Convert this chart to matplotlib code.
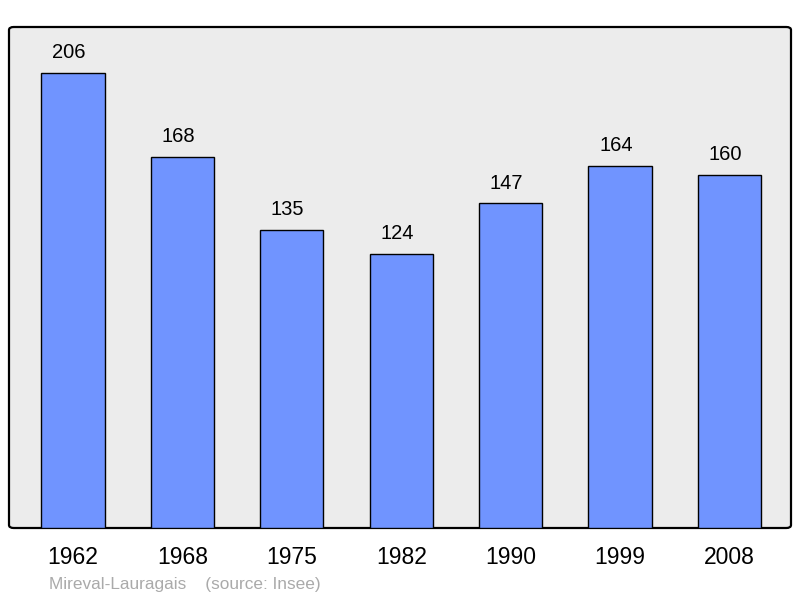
import matplotlib.pyplot as plt
from matplotlib.patches import FancyBboxPatch

plt.rcParams['font.family'] = ['Liberation Sans', 'DejaVu Sans']

years = ['1962', '1968', '1975', '1982', '1990', '1999', '2008']
population = [206, 168, 135, 124, 147, 164, 160]

fig = plt.figure(figsize=(8, 5.98), dpi=100)
ax = fig.add_axes([9 / 800, 70 / 598, 782 / 800, 501 / 598])
ax.set_facecolor('none')

# rounded grey frame
frame = FancyBboxPatch((0, 0), 1, 1, boxstyle='round,pad=0,rounding_size=0.006',
                       transform=ax.transAxes, facecolor='#ececec', edgecolor='black',
                       linewidth=1.6, zorder=0, clip_on=False)
ax.add_patch(frame)

x = list(range(len(years)))
bars = ax.bar(x, population, width=0.576, color='#7094ff', edgecolor='black',
              linewidth=1.0, zorder=2)

for xi, v in zip(x, population):
    ax.annotate(str(v), (xi, v), xytext=(-3, 14.6), textcoords='offset points',
                ha='center', va='center', fontsize=14.5)

ax.set_xlim(-0.585, 6.563)
ax.set_ylim(0, 226.8)
ax.set_xticks(x)
ax.set_xticklabels(years, fontsize=16.5)
ax.tick_params(axis='x', length=0, pad=13)
ax.set_yticks([])
for s in ax.spines.values():
    s.set_visible(False)

fig.text(49 / 800, 1 - 584 / 598, 'Mireval-Lauragais    (source: Insee)',
         fontsize=12.4, color='#aaaaaa', ha='left', va='center')

fig.savefig('out.png', dpi=100)
